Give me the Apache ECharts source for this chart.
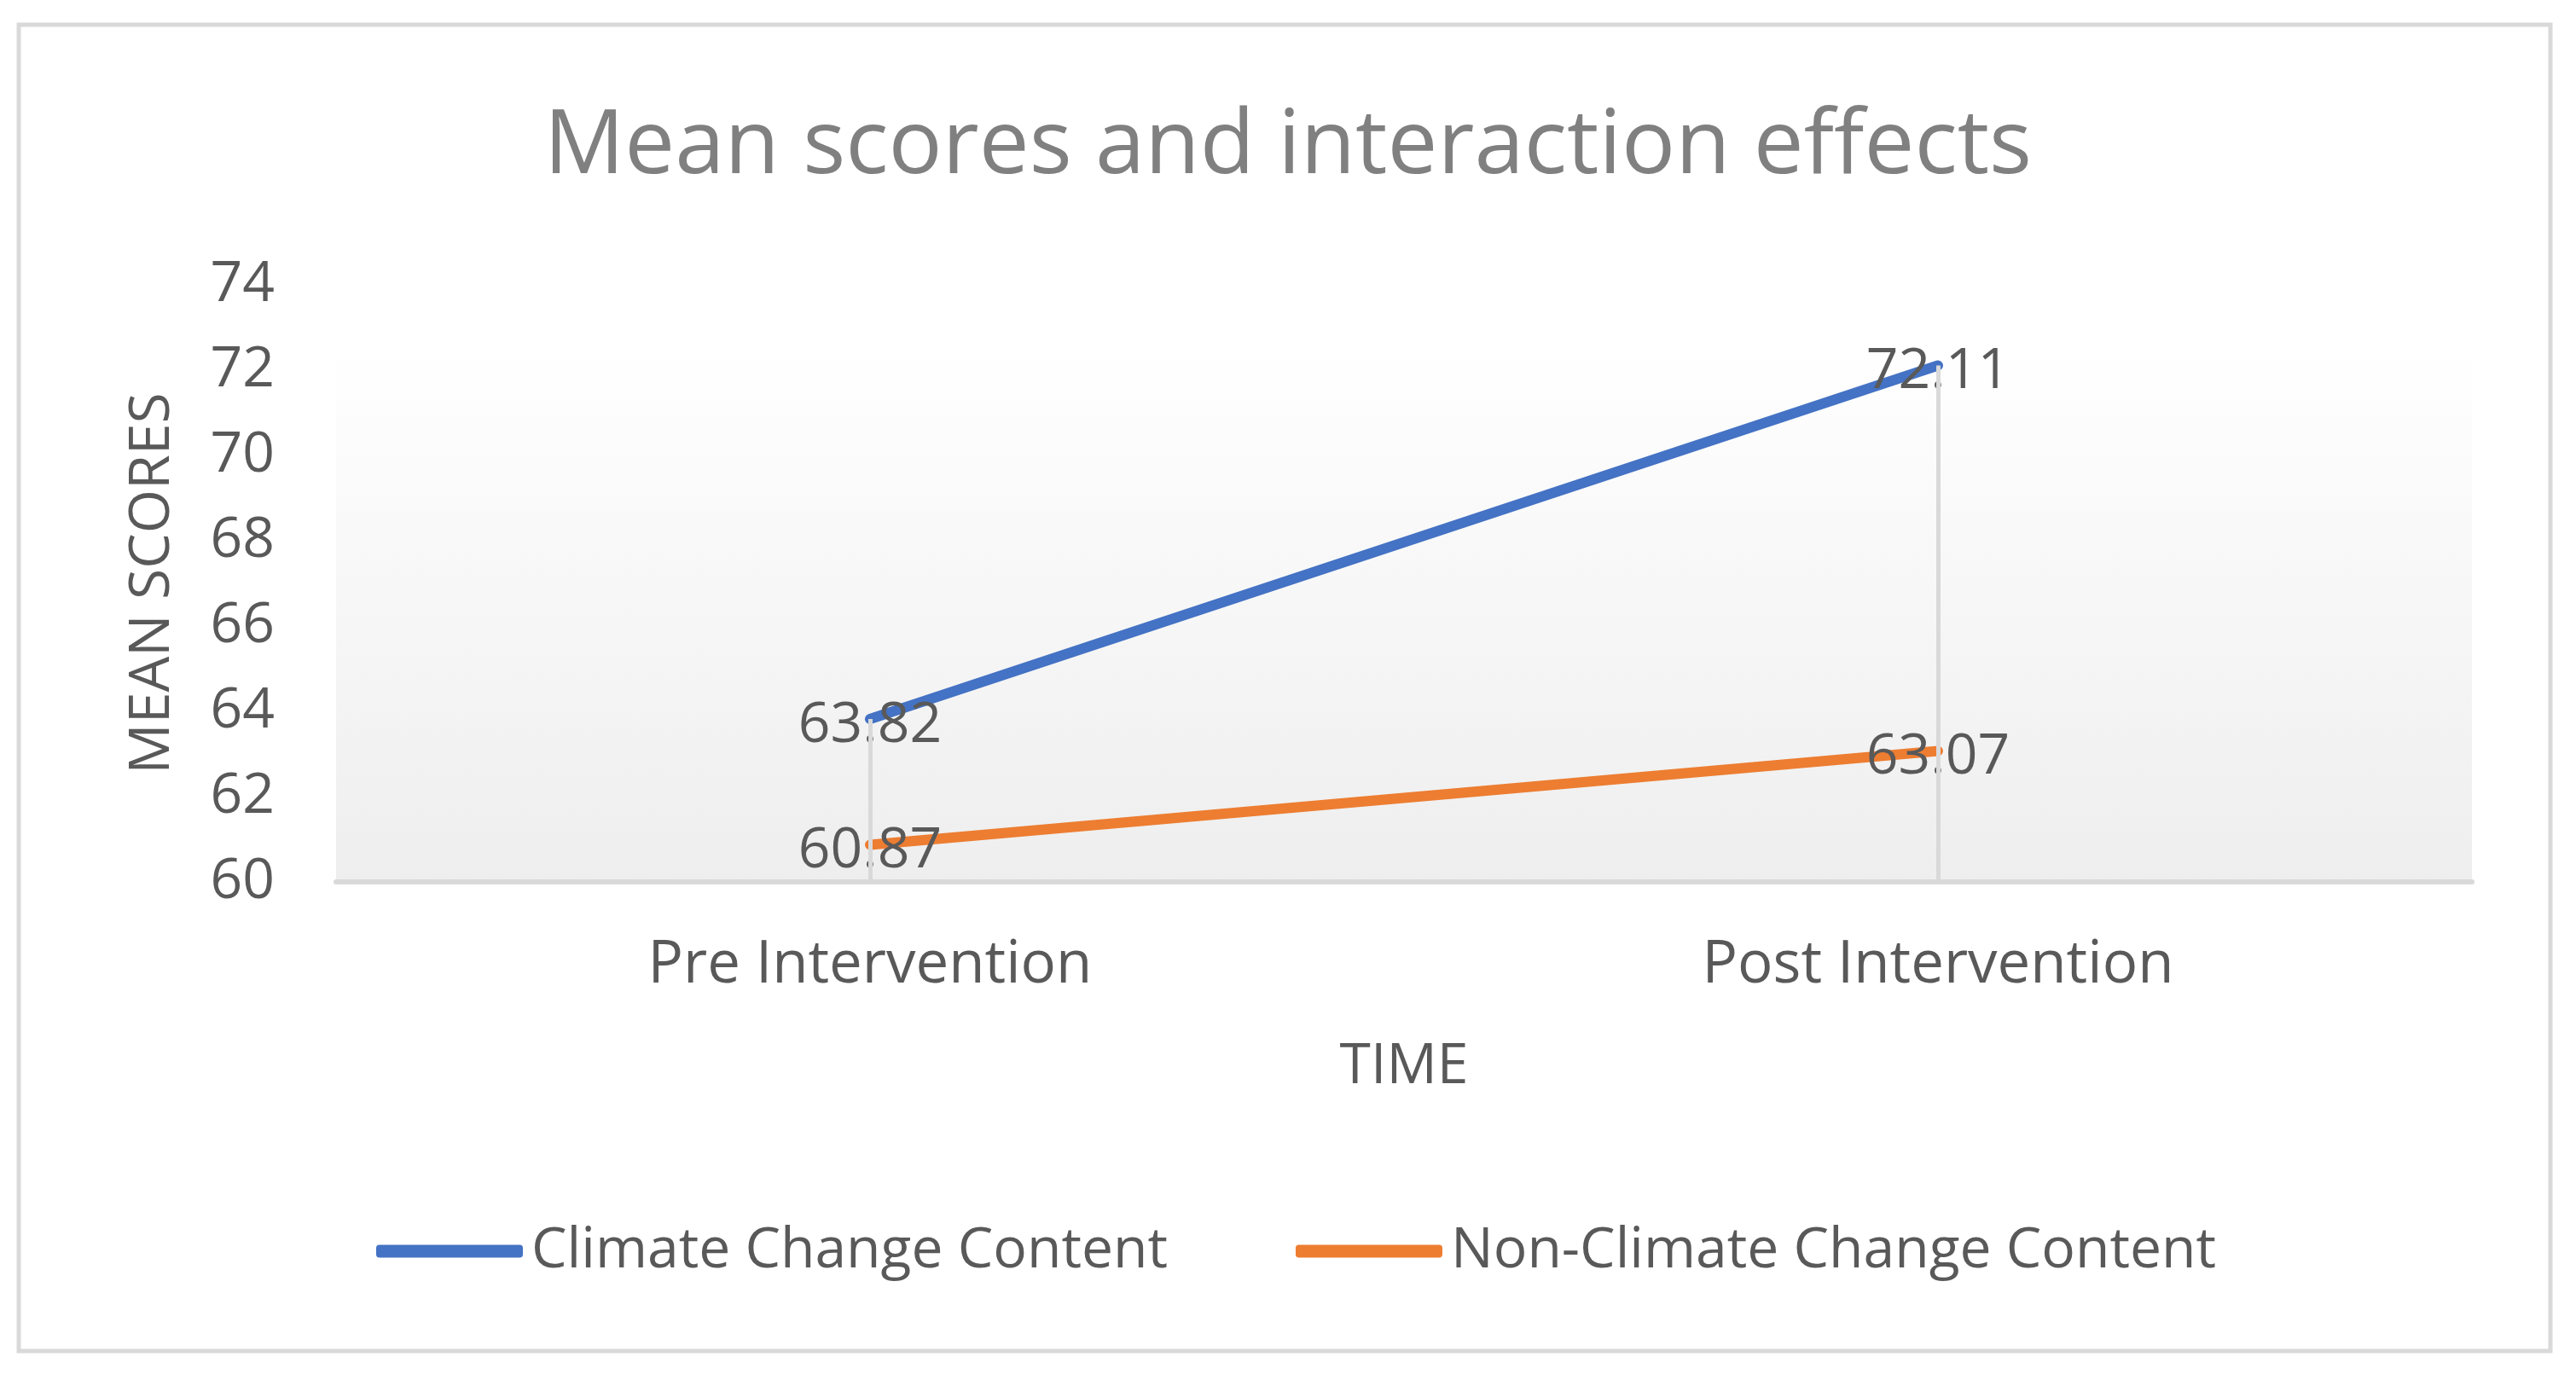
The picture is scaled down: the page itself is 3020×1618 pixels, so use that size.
<!DOCTYPE html>
<html>
<head>
<meta charset="utf-8">
<script src="https://cdn.jsdelivr.net/npm/echarts@6/dist/echarts.min.js"></script>
<style>
html,body{margin:0;padding:0;background:#fff;}
#chart{width:3020px;height:1618px;}
</style>
</head>
<body>
<div id="chart"></div>
<script>
const categories = ['Pre Intervention', 'Post Intervention'];
const climateChange = [63.82, 72.11];
const nonClimateChange = [60.87, 63.07];
const seriesNames = ['Climate Change Content', 'Non-Climate Change Content'];
const yTicks = { min: 60, max: 74, interval: 2 };

const FONT = '"Open Sans", "Noto Sans", sans-serif';
const TXT = '#595959';

const dropData = categories.map((c, i) => {
  const top = Math.max(climateChange[i], nonClimateChange[i]);
  return [{ coord: [c, top] }, { coord: [c, yTicks.min] }];
});

const chart = echarts.init(document.getElementById('chart'));
chart.setOption({
  backgroundColor: '#ffffff',
  animation: false,
  textStyle: { fontFamily: FONT },
  graphic: [{
    type: 'rect',
    shape: { x: 22, y: 29, width: 2968, height: 1555 },
    style: { fill: 'none', stroke: '#d9d9d9', lineWidth: 5 },
    silent: true
  }],
  title: {
    text: 'Mean scores and interaction effects',
    left: 'center',
    top: 116,
    textStyle: { fontFamily: FONT, fontSize: 105, fontWeight: 'normal', color: '#808080' }
  },
  legend: {
    data: seriesNames,
    left: 436,
    top: 1429,
    icon: 'roundRect',
    itemWidth: 172,
    itemHeight: 15,
    itemGap: 150,
    textStyle: { fontFamily: FONT, fontSize: 66, color: TXT, padding: [0, 0, 0, 5] }
  },
  grid: {
    left: 394, right: 122, top: 334, bottom: 584,
    show: true,
    borderWidth: 0,
    backgroundColor: {
      type: 'linear', x: 0, y: 0, x2: 0, y2: 1,
      colorStops: [
        { offset: 0, color: '#ffffff' },
        { offset: 0.1, color: '#ffffff' },
        { offset: 1, color: '#eeeeee' }
      ]
    }
  },
  xAxis: {
    type: 'category',
    data: categories,
    boundaryGap: true,
    name: 'TIME',
    nameLocation: 'middle',
    nameGap: 184,
    nameTextStyle: { fontFamily: FONT, fontSize: 66, color: TXT },
    axisLine: { show: true, lineStyle: { color: '#d9d9d9', width: 6 } },
    axisTick: { show: false },
    axisLabel: { fontFamily: FONT, fontSize: 69, color: TXT, margin: 64 },
    splitLine: { show: false }
  },
  yAxis: {
    type: 'value',
    min: yTicks.min,
    max: yTicks.max,
    interval: yTicks.interval,
    name: 'MEAN SCORES',
    nameLocation: 'middle',
    nameRotate: 90,
    nameGap: 182,
    nameTextStyle: { fontFamily: FONT, fontSize: 66, color: TXT },
    axisLine: { show: false },
    axisTick: { show: false },
    splitLine: { show: false },
    axisLabel: { fontFamily: FONT, fontSize: 66, color: TXT, margin: 72 }
  },
  series: [
    {
      name: 'dropLines',
      type: 'line',
      data: [],
      z: 1,
      silent: true,
      markLine: {
        silent: true,
        symbol: ['none', 'none'],
        label: { show: false },
        lineStyle: { color: '#d9d9d9', width: 5, type: 'solid' },
        data: dropData
      }
    },
    {
      name: seriesNames[0],
      type: 'line',
      data: climateChange,
      z: 3,
      color: '#4472C4',
      symbol: 'circle',
      symbolSize: 2,
      showSymbol: true,
      lineStyle: { width: 12, color: '#4472C4', cap: 'round' },
      itemStyle: { color: '#4472C4' },
      label: { show: true, position: 'inside', offset: [0, 8], fontFamily: FONT, fontSize: 66, color: TXT }
    },
    {
      name: seriesNames[1],
      type: 'line',
      data: nonClimateChange,
      z: 3,
      color: '#ED7D31',
      symbol: 'circle',
      symbolSize: 2,
      showSymbol: true,
      lineStyle: { width: 12, color: '#ED7D31', cap: 'round' },
      itemStyle: { color: '#ED7D31' },
      label: { show: true, position: 'inside', offset: [0, 8], fontFamily: FONT, fontSize: 66, color: TXT }
    }
  ]
});
</script>
</body>
</html>
